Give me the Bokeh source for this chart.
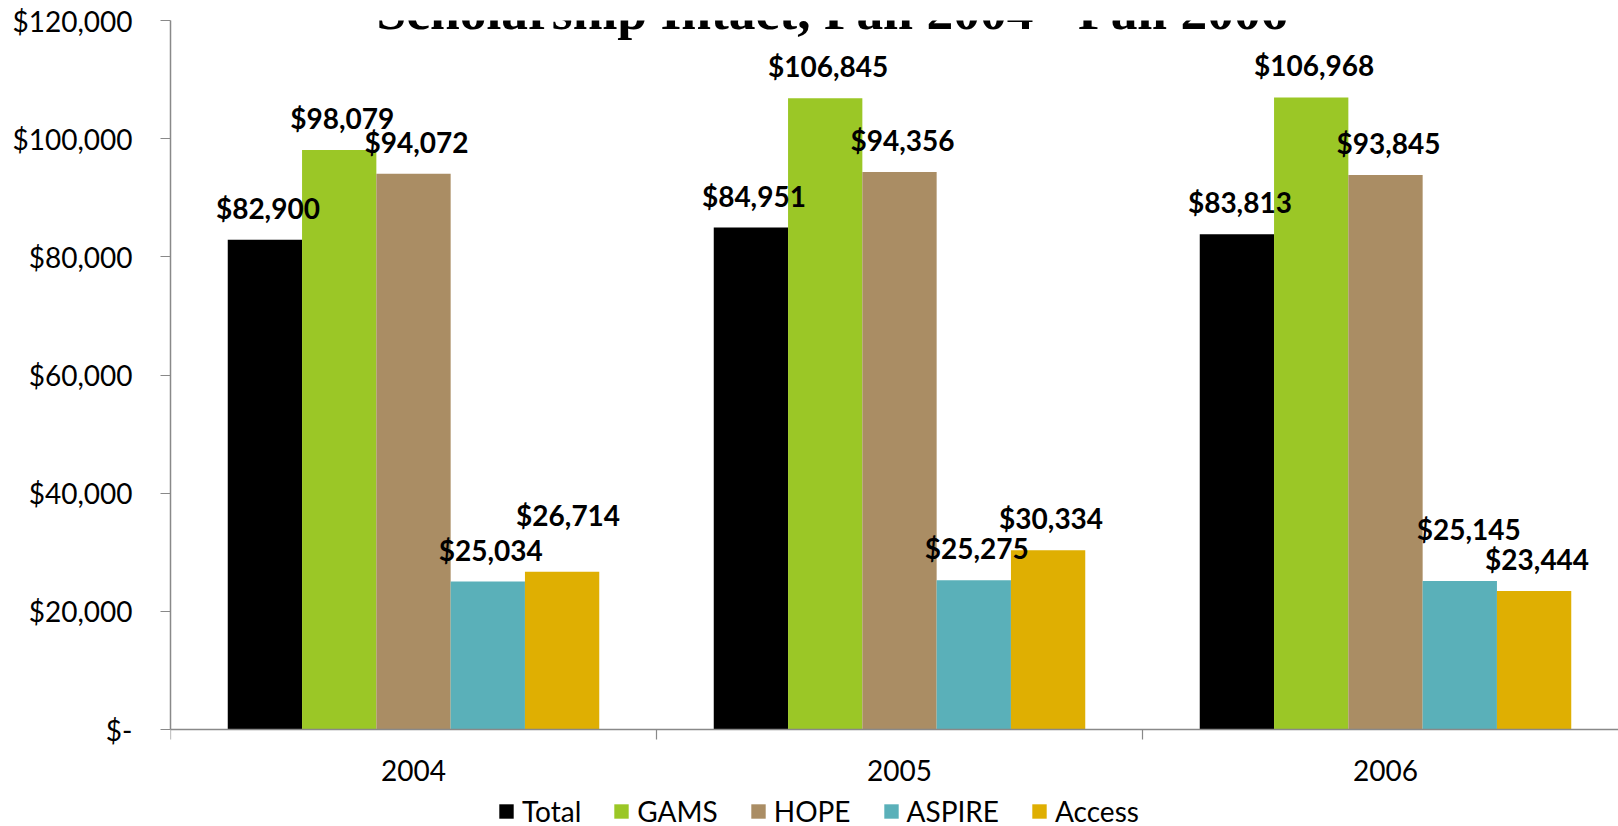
import math
from bokeh.plotting import figure
from bokeh.models import ColumnDataSource, Range1d, FixedTicker, Legend, LegendItem, Label, Span
from bokeh.core.properties import value
from bokeh.embed import file_html
from bokeh.resources import INLINE

# ---------------- data ----------------
years = ["2004", "2005", "2006"]
series = ["Total", "GAMS", "HOPE", "ASPIRE", "Access"]
total = [82900, 84951, 83813]
gams = [98079, 106845, 106968]
hope = [94072, 94356, 93845]
aspire = [25034, 25275, 25145]
access = [26714, 30334, 23444]
y_ticks = [0, 20000, 40000, 60000, 80000, 100000, 120000]
y_tick_labels = ["$-", "$20,000", "$40,000", "$60,000", "$80,000", "$100,000", "$120,000"]
title_text = "Scholarship Intact, Fall 2004 - Fall 2006"

# ---------------- styles / layout ----------------
colors = ["#000000", "#9BC726", "#AA8D64", "#5AB0B9", "#DFAF02"]
W, H = 1618, 826
LEFT, TOP, ZERO_Y = 170, 20, 729          # frame left, frame top, pixel row of the value 0
CAT_PX = 486.0                             # pixel width of one category
bar_w = 74.3 / CAT_PX
x_end = (W - LEFT) / CAT_PX               # right side of the chart is cut off
y_max = 120000
y_start = -y_max * (H - ZERO_Y) / (ZERO_Y - TOP)   # room below the zero line for labels/legend
# extra label lift (px) / shift for manually moved labels: (series index, year index)
extra_dy = {(4, 0): 25, (3, 2): 20}
extra_dx = {(4, 0): 3, (3, 2): 6}

FONT = "Lato"
AX = "#898989"

p = figure(width=W, height=H, x_range=Range1d(0, x_end), y_range=Range1d(y_start, y_max),
           output_backend="svg", toolbar_location=None,
           min_border_left=LEFT, min_border_right=0, min_border_top=TOP, min_border_bottom=0)
p.xgrid.visible = False
p.ygrid.visible = False
p.outline_line_color = None
p.background_fill_color = "white"
p.border_fill_color = "white"

values = [total, gams, hope, aspire, access]
legend_items = []
sources = []
for j, (name, vals, col) in enumerate(zip(series, values, colors)):
    xs = [i + 0.5 + (j - 2) * bar_w for i in range(len(years))]
    src = ColumnDataSource(dict(
        x=xs, top=vals,
        label=["${:,}".format(v) for v in vals],
        dx=[3 + extra_dx.get((j, i), 0) for i in range(len(years))],
        dy=[-32 - extra_dy.get((j, i), 0) for i in range(len(years))],
    ))
    sources.append(src)
    r = p.vbar(x="x", top="top", bottom=0, width=bar_w, source=src,
               fill_color=col, line_color=None)
    legend_items.append(LegendItem(label=name, renderers=[r]))

for src in sources:
    p.text(x="x", y="top", text="label", source=src, x_offset="dx", y_offset="dy",
           text_align="center", text_baseline="alphabetic",
           text_font=value(FONT), text_font_style="bold", text_font_size="28px",
           text_color="black")

# category axis at value 0: line, boundary ticks, labels
p.add_layout(Span(location=0, dimension="width", line_color=AX, line_width=1.5))
bounds = [float(i) for i in range(len(years) + 1)]
p.ray(x=bounds, y=[0] * len(bounds), length=10, length_units="screen",
      angle=-math.pi / 2, line_color=AX, line_width=1.2)
p.text(x=[i + 0.5 for i in range(len(years))], y=[0] * len(years), text=years,
       y_offset=41, text_align="center", text_baseline="alphabetic",
       text_font=value(FONT), text_font_size="28px", text_color="black")
p.xaxis.visible = False

# y axis
ya = p.yaxis[0]
ya.bounds = (0, y_max)
ya.ticker = FixedTicker(ticks=y_ticks, minor_ticks=[])
ya.major_label_overrides = {t: lab for t, lab in zip(y_ticks, y_tick_labels)}
ya.major_label_text_font = FONT
ya.major_label_text_font_size = "28px"
ya.major_label_text_color = "black"
ya.major_label_standoff = 28
ya.axis_line_color = AX
ya.axis_line_width = 1.5
ya.major_tick_line_color = AX
ya.major_tick_out = 10
ya.major_tick_in = 0
ya.minor_tick_line_color = None

legend = Legend(items=legend_items, orientation="horizontal", location=(327, -2),
                label_text_font=FONT, label_text_font_size="28px", label_text_color="black",
                glyph_width=18, glyph_height=18, label_standoff=7, spacing=31,
                padding=0, margin=0, border_line_color=None, background_fill_alpha=0)
p.add_layout(legend, "center")

title = Label(x=206, y=H - 10, x_units="screen", y_units="screen", text=title_text,
              text_font="Liberation Serif", text_font_style="bold", text_font_size="53.5px",
              text_baseline="alphabetic", text_align="left", text_color="black")
p.add_layout(title)

open("out.html", "w").write(file_html(p, INLINE))
